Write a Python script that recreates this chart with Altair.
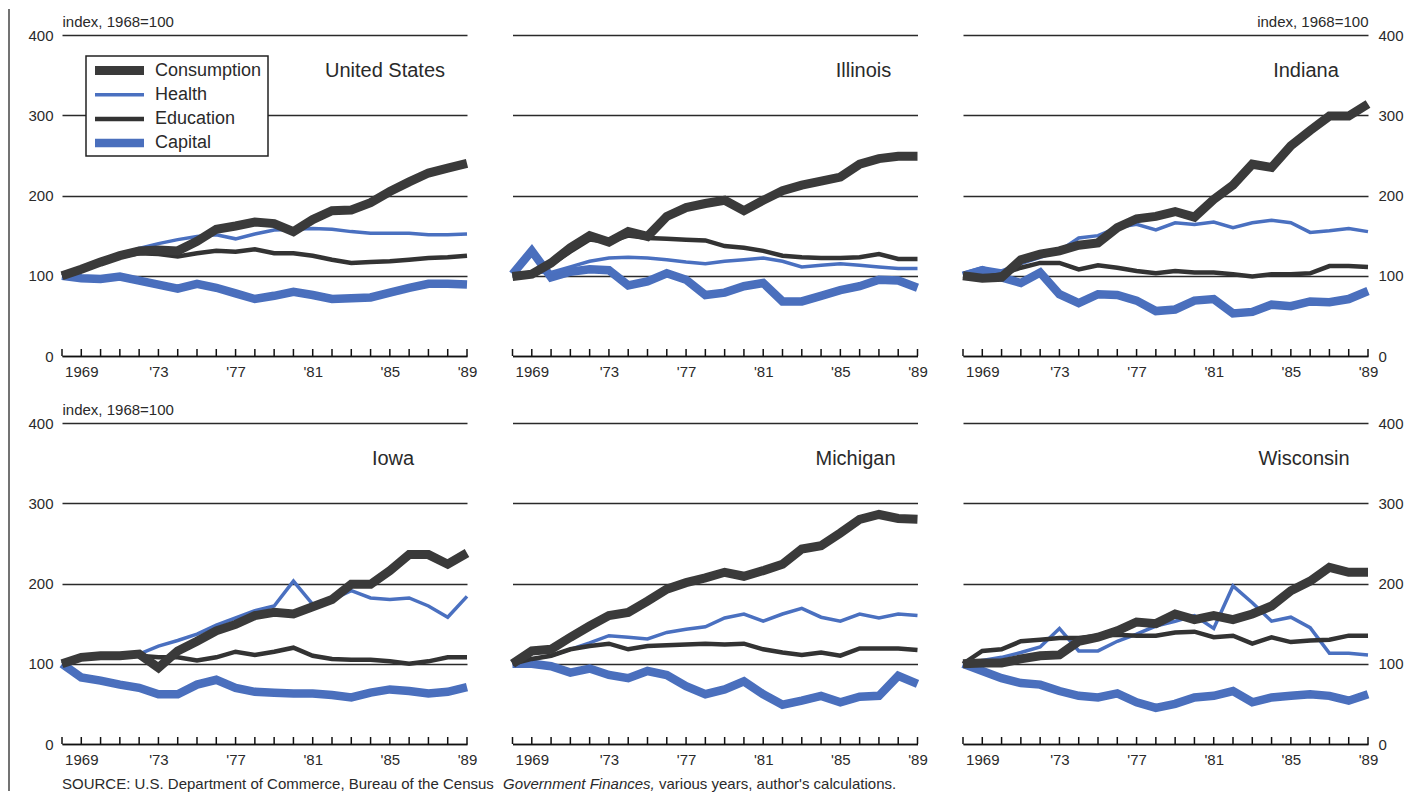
import json
import altair as alt
import pandas as pd

# ---------------- data ----------------
years = list(range(1968, 1990))
label_years = [1969, 1973, 1977, 1981, 1985, 1989]
label_texts = ["1969", "'73", "'77", "'81", "'85", "'89"]
y_ticks = [0, 100, 200, 300, 400]
series_names = ["Consumption", "Health", "Education", "Capital"]
panel_names = ["United States", "Illinois", "Indiana", "Iowa", "Michigan", "Wisconsin"]
y_title = "index, 1968=100"
source_parts = ["SOURCE: U.S. Department of Commerce, Bureau of the Census",
                "Government Finances,",
                "various years, author's calculations."]

us_consumption = [100, 108, 117, 125, 131, 132, 131, 143, 158, 162, 167, 165, 155, 170, 181, 182, 191, 205, 217, 228, 234, 240]
us_health = [100, 108, 117, 126, 134, 140, 145, 149, 151, 146, 152, 157, 158, 159, 158, 155, 153, 153, 153, 151, 151, 152]
us_education = [100, 108, 116, 124, 128, 127, 124, 128, 131, 130, 133, 128, 128, 125, 120, 116, 117, 118, 120, 122, 123, 125]
us_capital = [100, 97, 96, 99, 94, 89, 84, 90, 85, 78, 71, 75, 80, 76, 71, 72, 73, 79, 85, 90, 90, 89]

il_consumption = [99, 102, 116, 135, 150, 142, 155, 149, 174, 185, 190, 194, 181, 194, 206, 213, 218, 223, 239, 246, 249, 249]
il_health = [100, 105, 104, 111, 118, 122, 123, 122, 120, 117, 115, 118, 120, 122, 118, 111, 113, 115, 113, 111, 109, 109]
il_education = [100, 102, 114, 130, 145, 142, 150, 147, 146, 145, 144, 137, 135, 131, 125, 123, 122, 122, 123, 127, 121, 121]
il_capital = [102, 131, 98, 105, 108, 107, 88, 93, 103, 95, 76, 79, 87, 91, 68, 68, 75, 82, 87, 95, 94, 85]

in_consumption = [100, 97, 98, 120, 127, 131, 138, 141, 160, 171, 174, 180, 173, 195, 213, 239, 235, 262, 281, 299, 299, 314]
in_health = [103, 110, 106, 115, 123, 131, 147, 150, 160, 164, 157, 166, 164, 167, 160, 166, 169, 166, 154, 156, 159, 155]
in_education = [100, 98, 102, 110, 116, 116, 108, 113, 110, 106, 103, 106, 104, 104, 102, 99, 102, 102, 103, 112, 112, 111]
in_capital = [100, 107, 98, 91, 104, 77, 66, 77, 76, 69, 56, 58, 69, 71, 53, 55, 64, 62, 68, 67, 71, 81]

ia_consumption = [100, 108, 110, 110, 112, 95, 116, 128, 141, 149, 160, 164, 162, 171, 180, 199, 199, 216, 236, 236, 224, 238]
ia_health = [100, 107, 109, 110, 112, 122, 129, 137, 148, 157, 166, 172, 203, 174, 180, 191, 182, 180, 182, 172, 158, 184]
ia_education = [100, 108, 110, 110, 110, 108, 108, 104, 108, 115, 111, 115, 120, 110, 106, 105, 105, 103, 100, 103, 108, 108]
ia_capital = [100, 83, 79, 74, 70, 62, 62, 74, 80, 70, 65, 64, 63, 63, 61, 58, 64, 68, 66, 63, 65, 71]

mi_consumption = [100, 116, 118, 133, 147, 160, 164, 178, 193, 201, 207, 214, 209, 216, 224, 243, 247, 263, 280, 286, 281, 280]
mi_health = [100, 106, 110, 118, 126, 135, 133, 131, 139, 143, 146, 157, 162, 153, 162, 169, 158, 153, 162, 157, 162, 160]
mi_education = [100, 106, 110, 118, 122, 125, 118, 122, 123, 124, 125, 124, 125, 118, 114, 111, 114, 110, 119, 119, 119, 117]
mi_capital = [100, 100, 97, 89, 94, 86, 82, 91, 86, 72, 62, 68, 78, 62, 49, 54, 60, 52, 59, 60, 85, 75]

wi_consumption = [100, 101, 101, 106, 110, 111, 128, 133, 141, 152, 150, 162, 155, 160, 155, 162, 172, 191, 203, 220, 214, 214]
wi_health = [100, 104, 108, 114, 121, 144, 116, 116, 128, 137, 147, 153, 160, 144, 197, 176, 153, 158, 145, 113, 113, 111]
wi_education = [100, 116, 118, 128, 130, 132, 132, 135, 136, 135, 135, 139, 140, 133, 135, 125, 133, 127, 129, 130, 135, 135]
wi_capital = [100, 91, 82, 76, 74, 66, 60, 58, 63, 52, 45, 50, 58, 60, 66, 52, 58, 60, 62, 60, 54, 62]

panel_values = [
    [us_consumption, us_health, us_education, us_capital],
    [il_consumption, il_health, il_education, il_capital],
    [in_consumption, in_health, in_education, in_capital],
    [ia_consumption, ia_health, ia_education, ia_capital],
    [mi_consumption, mi_health, mi_education, mi_capital],
    [wi_consumption, wi_health, wi_education, wi_capital],
]

# ---------------- styles ----------------
FONT = "Liberation Sans"
TEXT = "#2a2a2a"
GRID = "#2a2a2a"
W, H = 405, 321
styles = {
    "Consumption": ("#3a3a3a", 9),
    "Health": ("#4a70c0", 3.5),
    "Education": ("#333333", 4.5),
    "Capital": ("#4a6fbd", 8.5),
}
draw_order = ["Capital", "Health", "Education", "Consumption"]
# per panel: y-axis side, show y title, title x (px from plot left)
panel_cfg = [
    ("left", True, 323), (None, False, 351), ("right", True, 343),
    ("left", True, 331), (None, False, 343), ("right", False, 341),
]

label_expr = " : ".join(
    f"datum.value == {y} ? {json.dumps(t)}" for y, t in zip(label_years, label_texts)
) + " : ''"

one = pd.DataFrame({"k": [0]})


def make_df(vals):
    rows = []
    for s, arr in zip(series_names, vals):
        for yr, v in zip(years, arr):
            rows.append({"year": yr, "value": v, "series": s})
    return pd.DataFrame(rows)


def panel(i):
    vals = panel_values[i]
    side, show_title, tx = panel_cfg[i]
    df = make_df(vals)

    x_enc = alt.X(
        "year:Q",
        scale=alt.Scale(domain=[1968, 1989], nice=False, zero=False),
        axis=alt.Axis(values=label_years, labelExpr=label_expr, labelFlush=False,
                      labelOverlap=False, ticks=False, grid=False, domain=True,
                      domainColor="#111111", domainWidth=1.6, labelPadding=8,
                      labelFontSize=15, labelFont=FONT, labelColor=TEXT, title=None),
    )
    axis_kw = dict(values=y_ticks, grid=True, gridColor=GRID, gridWidth=1.4,
                   ticks=False, domain=False, labelFontSize=15, labelFont=FONT,
                   labelColor=TEXT)
    if side is None:
        yaxis = alt.Axis(labels=False, title=None, **axis_kw)
    else:
        extra = dict(orient=side, labelPadding=9 if side == "left" else 10)
        if show_title:
            extra.update(title=y_title, titleAngle=0,
                         titleAlign="left" if side == "left" else "right",
                         titleBaseline="alphabetic", titleX=0, titleY=-9,
                         titleFont=FONT, titleFontSize=15, titleFontWeight="normal",
                         titleColor=TEXT)
        else:
            extra.update(title=None)
        yaxis = alt.Axis(**extra, **axis_kw)
    y_enc = alt.Y("value:Q", scale=alt.Scale(domain=[0, 400], nice=False), axis=yaxis)

    layers = []
    for s in draw_order:
        color, width = styles[s]
        layers.append(
            alt.Chart(df).transform_filter(alt.datum.series == s)
            .mark_line(color=color, strokeWidth=width, strokeJoin="miter", strokeCap="butt")
            .encode(x=x_enc, y=y_enc, order="year:Q")
        )
    # upward tick marks along the baseline
    layers.append(
        alt.Chart(pd.DataFrame({"year": years})).mark_rule(color="#111111", strokeWidth=1.5)
        .encode(x=x_enc, y=alt.value(H), y2=alt.value(H - 7))
    )
    # panel title
    layers.append(
        alt.Chart(one).mark_text(text=panel_names[i], font=FONT, fontSize=20, color=TEXT,
                                 align="center", baseline="middle")
        .encode(x=alt.value(tx), y=alt.value(36))
    )
    if i == 0:
        # frame line on the left edge
        layers.append(
            alt.Chart(one).mark_rule(color="#444444", strokeWidth=1.5)
            .encode(x=alt.value(-53), y=alt.value(-26), y2=alt.value(756))
        )
        # legend box
        layers.append(
            alt.Chart(one).mark_rect(fill="white", stroke="#222222", strokeWidth=1.5)
            .encode(x=alt.value(24), x2=alt.value(206), y=alt.value(21), y2=alt.value(121))
        )
        for j, s in enumerate(series_names):
            color, width = styles[s]
            yy = 35.5 + j * 24.2
            layers.append(
                alt.Chart(one).mark_rule(color=color, strokeWidth=width)
                .encode(x=alt.value(33), x2=alt.value(82), y=alt.value(yy))
            )
            layers.append(
                alt.Chart(one).mark_text(text=s, font=FONT, fontSize=18, color=TEXT,
                                         align="left", baseline="middle")
                .encode(x=alt.value(93), y=alt.value(yy))
            )
    if i == 3:
        src_x = [0, 441, 597]
        for part, sx, style in zip(source_parts, src_x, ["normal", "italic", "normal"]):
            layers.append(
                alt.Chart(one).mark_text(text=part, font=FONT, fontSize=15, color=TEXT,
                                         fontStyle=style, align="left", baseline="middle")
                .encode(x=alt.value(sx), y=alt.value(361))
            )
    return alt.layer(*layers).properties(width=W, height=H)


chart = alt.concat(
    *[panel(i) for i in range(6)], columns=3,
    spacing={"row": 67, "column": 45.5}, bounds="flush",
).properties(
    padding={"left": 0, "top": 0, "right": 4, "bottom": 0},
    background="white",
).configure_view(strokeWidth=0)

chart.save("out.html", embed_options={"renderer": "svg", "actions": False})
